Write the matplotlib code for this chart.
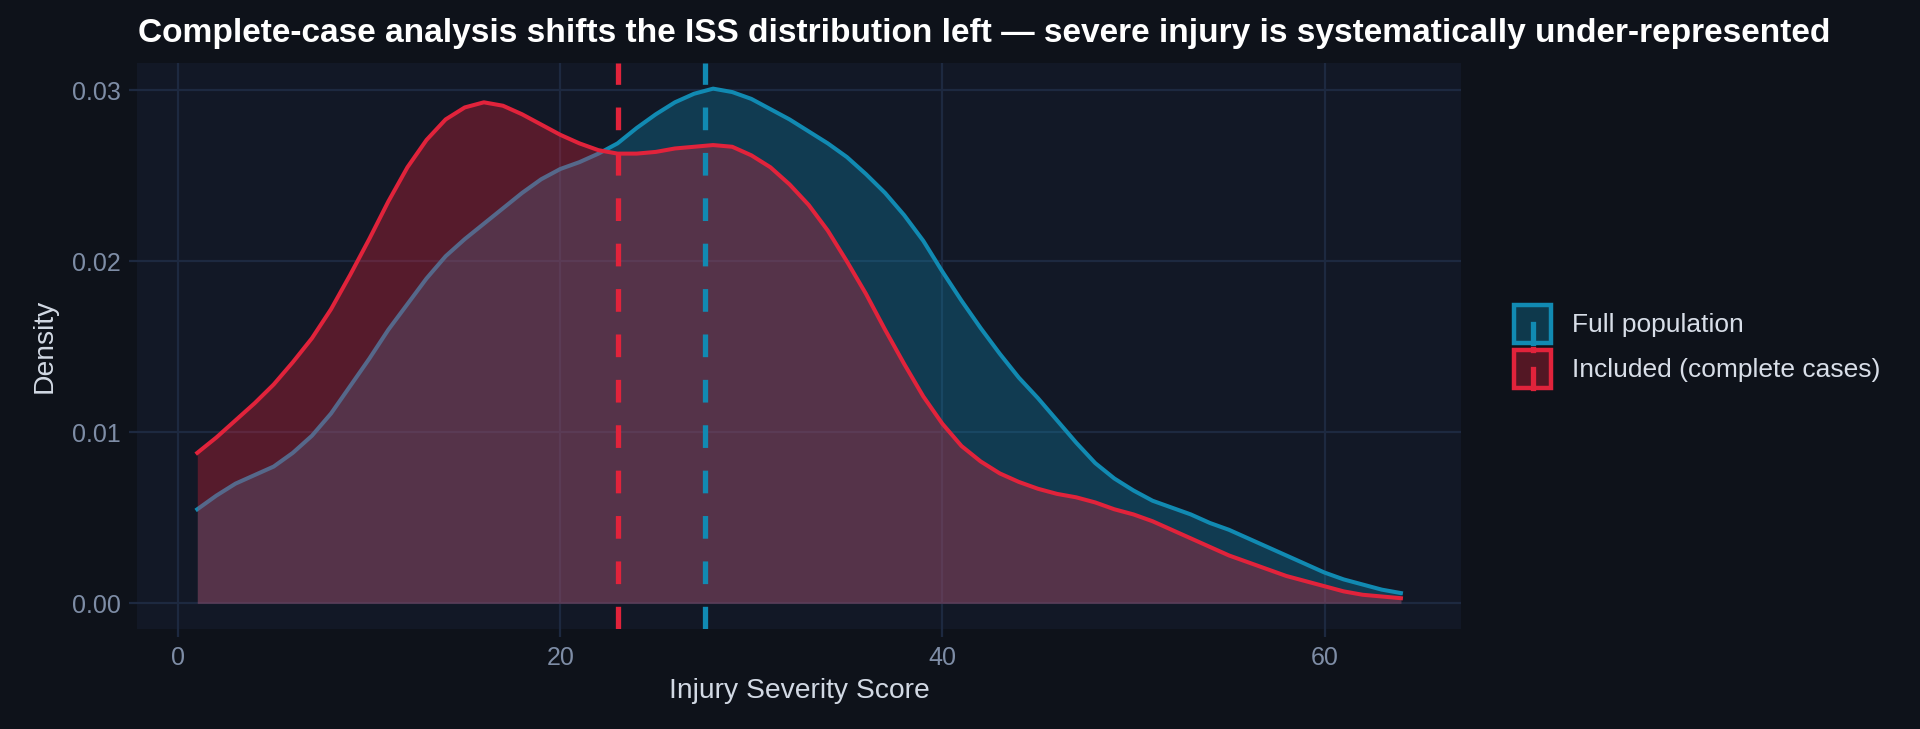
import matplotlib
matplotlib.use("Agg")
import matplotlib.pyplot as plt
from matplotlib.colors import to_rgba
from matplotlib.patches import Rectangle
from matplotlib.lines import Line2D
from matplotlib.legend_handler import HandlerBase

# density curves (ISS 1..64 vs density)
iss = [1, 2, 3, 4, 5, 6, 7, 8, 9, 10, 11, 12, 13, 14, 15, 16, 17, 18, 19, 20,
       21, 22, 23, 24, 25, 26, 27, 28, 29, 30, 31, 32, 33, 34, 35, 36, 37, 38, 39, 40,
       41, 42, 43, 44, 45, 46, 47, 48, 49, 50, 51, 52, 53, 54, 55, 56, 57, 58, 59, 60,
       61, 62, 63, 64]

dens_full = [0.0055, 0.0063, 0.0070, 0.0075, 0.0080, 0.0088, 0.0098, 0.0111, 0.0127, 0.0143,
             0.0160, 0.0175, 0.0190, 0.0203, 0.0213, 0.0222, 0.0231, 0.0240, 0.0248, 0.0254,
             0.0258, 0.0263, 0.0269, 0.0278, 0.0286, 0.0293, 0.0298, 0.0301, 0.0299, 0.0295,
             0.0289, 0.0283, 0.0276, 0.0269, 0.0261, 0.0251, 0.0240, 0.0227, 0.0212, 0.0194,
             0.0177, 0.0161, 0.0146, 0.0132, 0.0120, 0.0107, 0.0094, 0.0082, 0.0073, 0.0066,
             0.0060, 0.0056, 0.0052, 0.0047, 0.0043, 0.0038, 0.0033, 0.0028, 0.0023, 0.0018,
             0.0014, 0.0011, 0.0008, 0.0006]

dens_incl = [0.0088, 0.0097, 0.0107, 0.0117, 0.0128, 0.0141, 0.0155, 0.0172, 0.0192, 0.0213,
             0.0235, 0.0255, 0.0271, 0.0283, 0.0290, 0.0293, 0.0291, 0.0286, 0.0280, 0.0274,
             0.0269, 0.0265, 0.0263, 0.0263, 0.0264, 0.0266, 0.0267, 0.0268, 0.0267, 0.0262,
             0.0255, 0.0245, 0.0233, 0.0218, 0.0200, 0.0181, 0.0160, 0.0140, 0.0121, 0.0105,
             0.0092, 0.0083, 0.0076, 0.0071, 0.0067, 0.0064, 0.0062, 0.0059, 0.0055, 0.0052,
             0.0048, 0.0043, 0.0038, 0.0033, 0.0028, 0.0024, 0.0020, 0.0016, 0.0013, 0.0010,
             0.0007, 0.0005, 0.0004, 0.0003]

mean_full = 27.6
mean_incl = 23.0

labels = ["Full population", "Included (complete cases)"]
BLUE = "#118AB2"
RED = "#E1233B"
BG = "#0E121A"
PANEL = "#121826"
GRID = "#1D2940"

plt.rcParams["font.family"] = ["Liberation Sans", "DejaVu Sans"]

fig = plt.figure(figsize=(9.6, 3.645), dpi=200, facecolor=BG)
ax = fig.add_axes([0.0714, 0.1372, 0.6896, 0.7764])
ax.set_facecolor(PANEL)

# blue first, red fill over it (so the blue line goes greyish under the red fill)
ax.fill_between(iss, dens_full, color=BLUE, alpha=0.31, lw=0, zorder=1.0)
ax.plot(iss, dens_full, color=BLUE, lw=1.45, zorder=1.1)
ax.fill_between(iss, dens_incl, color=RED, alpha=0.33, lw=0, zorder=1.2)
ax.plot(iss, dens_incl, color=RED, lw=1.45, zorder=1.3)

for m, c in [(mean_incl, RED), (mean_full, BLUE)]:
    ln = ax.axvline(m, color=c, lw=1.9, zorder=2)
    ln.set_dashes((4.3, 4.3))

ax.set_xlim(-2.15, 67.15)
ax.set_ylim(-0.0015, 0.0316)
ax.set_xticks([0, 20, 40, 60])
ax.set_yticks([0.00, 0.01, 0.02, 0.03])
ax.set_yticklabels(["0.00", "0.01", "0.02", "0.03"])
ax.grid(True, color=GRID, lw=0.8, zorder=0)
ax.set_axisbelow(True)
for s in ax.spines.values():
    s.set_visible(False)
ax.tick_params(colors=GRID, labelcolor="#7E8DA6", labelsize=9, length=3, width=0.8, pad=3)

ax.set_xlabel("Injury Severity Score", color="#D2D9E4", fontsize=10.2, labelpad=3)
ax.set_ylabel("Density", color="#D2D9E4", fontsize=10.2, labelpad=5)

fig.text(0.0719, 0.942, "Complete-case analysis shifts the ISS distribution left \u2014 severe injury is systematically under-represented",
         color="white", fontsize=12.05, fontweight="bold", va="baseline", ha="left")


class KeyHandler(HandlerBase):
    def create_artists(self, legend, orig, xd, yd, w, h, fs, trans):
        c = orig.get_color()
        x0, y0 = -xd, -yd
        r = Rectangle((x0 + 1, y0 + 1), w - 2, h - 2, facecolor=to_rgba(c, 0.33),
                      edgecolor=c, lw=1.6, transform=trans)
        xm = x0 + w / 2
        v1 = Line2D([xm, xm], [y0 + 1, y0 + h * 0.5], color=c, lw=1.9, transform=trans)
        v2 = Line2D([xm, xm], [y0 + h * 0.94, y0 + h - 1], color=c, lw=1.9, transform=trans)
        return [r, v1, v2]


handles = [Line2D([], [], color=BLUE), Line2D([], [], color=RED)]
leg = fig.legend(handles, labels, loc="center left", bbox_to_anchor=(0.787, 0.5247),
                 frameon=False, fontsize=9.5, handlelength=1.63, handleheight=2.2,
                 handletextpad=0.68, labelspacing=0.02, borderpad=0, borderaxespad=0,
                 handler_map={Line2D: KeyHandler()})
for t in leg.get_texts():
    t.set_color("#D8DEE8")

fig.savefig("out.png", dpi=200, facecolor=BG)
